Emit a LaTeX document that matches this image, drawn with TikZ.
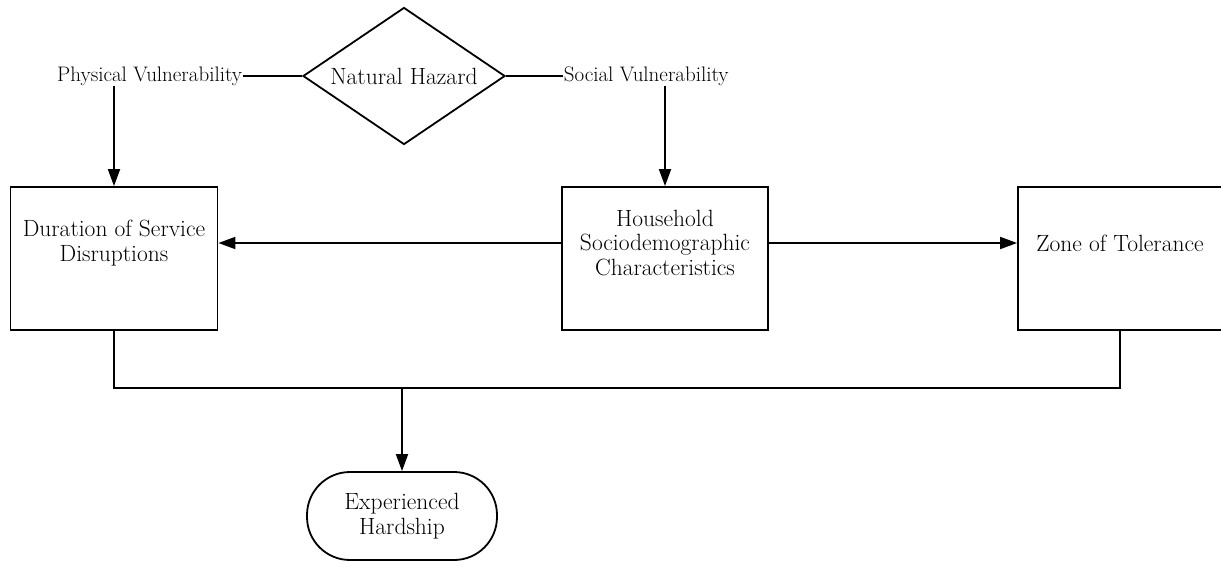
\documentclass[tikz,border=0pt]{standalone}
\usetikzlibrary{shapes.geometric,arrows.meta}
\begin{document}
\begin{tikzpicture}[x=1pt,y=-1pt,
  line width=1.8pt,
  arr/.style={-{Triangle[length=17pt,width=12pt]}},
  lbl/.style={inner sep=0pt,font=\fontsize{21}{25}\selectfont},
  txt/.style={inner sep=0pt,align=center,font=\fontsize{23.5}{24.5}\selectfont},
  boxst/.style={draw,rectangle,inner sep=0pt,minimum width=#1,minimum height=143pt},
]
\useasboundingbox (0,0) rectangle (1221,566);
% hazard
\node[draw,diamond,aspect=1.47,inner sep=0pt,minimum width=202pt,minimum height=137pt,txt] (haz) at (404,76) {Natural Hazard};
\node[lbl,anchor=east] (pv) at (243,76) {Physical Vulnerability};
\node[lbl,anchor=west] (sv) at (563,76) {Social Vulnerability};
\draw (pv.east) -- (haz.west);
\draw (haz.east) -- (sv.west);
% boxes
\node[boxst=207pt] (dur) at (114,258.5) {};
\node[txt] (durt) at (114,243) {Duration of Service\\Disruptions};
\node[boxst=206pt] (hh) at (665,258.5) {};
\node[txt] (hht) at (665,243) {Household\\Sociodemographic\\Characteristics};
\node[boxst=204pt] (zone) at (1120,258.5) {};
\node[txt] (zonet) at (1120,243) {Zone of Tolerance};
% vulnerability arrows
\draw[arr] (dur.north |- pv.south) -- (dur.north);
\draw[arr] (hh.north |- sv.south) -- (hh.north);
% horizontal arrows
\draw[arr] (hh.west |- hht.center) -- (dur.east |- hht.center);
\draw[arr] (hh.east |- hht.center) -- (zone.west |- hht.center);
% merge
\coordinate (j) at (402,388);
\draw (dur.south) |- (j) -| (zone.south);
\node[draw,rectangle,rounded corners=43pt,minimum width=190pt,minimum height=88pt,txt] (hard) at (402,516) {Experienced\\Hardship};
\draw[arr] (j) -- (hard.north);
\end{tikzpicture}
\end{document}
